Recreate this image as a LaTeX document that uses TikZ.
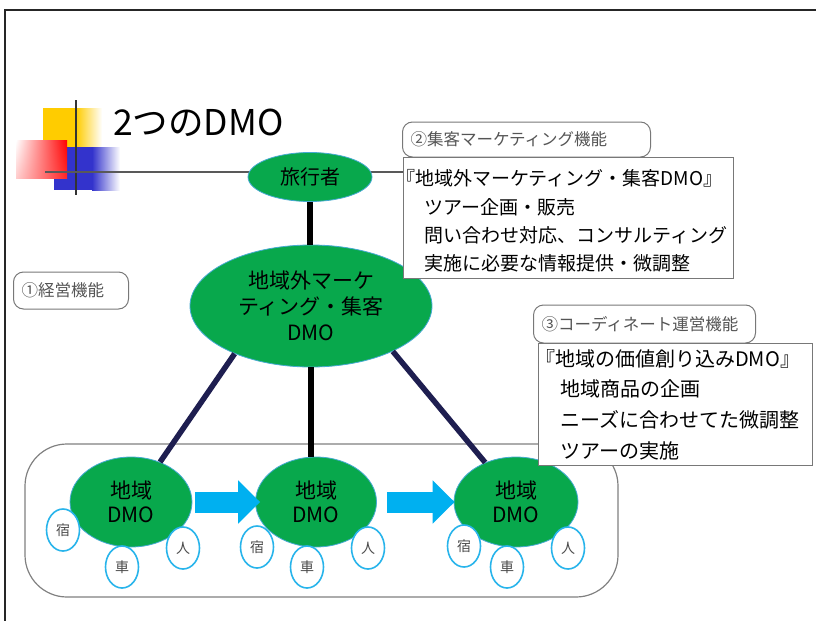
\documentclass[tikz,border=0pt]{standalone}
\usepackage{fontspec}
\setmainfont{Noto Sans CJK JP}
\usetikzlibrary{shapes.geometric,arrows.meta,shadings}
\definecolor{dmogreen}{RGB}{8,168,76}
\definecolor{dmoedge}{RGB}{70,170,210}
\definecolor{circedge}{RGB}{40,180,235}
\definecolor{arrowblue}{RGB}{0,176,240}
\definecolor{navyline}{RGB}{30,30,80}
\definecolor{boxgray}{RGB}{120,120,120}
\definecolor{labelgray}{RGB}{85,85,85}
\definecolor{decoyellow}{RGB}{255,204,0}
\definecolor{decoblue}{RGB}{51,51,204}
\definecolor{decored}{RGB}{255,0,0}
\begin{document}
\begin{tikzpicture}[x=1pt,y=-1pt,
  greenell/.style={ellipse, fill=dmogreen, draw=dmoedge, line width=0.8pt, inner sep=0pt, align=center, text=black},
  smallell/.style={ellipse, fill=white, draw=circedge, line width=1.6pt, minimum width=33pt, minimum height=42pt, inner sep=0pt, font=\fontsize{14}{16}\selectfont, text=black!70},
  tagbox/.style={rounded corners=10pt, draw=boxgray, line width=1pt, fill=white, font=\fontsize{16.5}{18}\selectfont, text=labelgray, inner ysep=0pt, inner xsep=8pt, minimum height=36pt, align=left, anchor=west},
  infobox/.style={draw=boxgray, line width=1.2pt, fill=white, inner sep=0pt, anchor=north west},
  infotext/.style={anchor=base west, inner sep=0pt, text=black},
  heavyblack/.style={line width=6pt, black},
  heavynavy/.style={line width=5.5pt, navyline},
  blockarrow/.style={draw=arrowblue, line width=21pt, -{Triangle[length=22pt,width=42pt]}},
]
\useasboundingbox (0,0) rectangle (816,621);
% frame
\draw[line width=2pt, black!85] (816,10) -- (5,10) -- (5,621);
% decoration
\fill[decoyellow] (43,108) rectangle (76,147);
\shade[left color=decoyellow, right color=white] (76,108) rectangle (102,147);
\fill[decoblue] (54,147) rectangle (92,190);
\shade[left color=decoblue, right color=white] (92,147) rectangle (120,190);
\shade[upper left=white, upper right=decored, lower left=decored!20, lower right=decored!85] (16,140) rectangle (67,178);
\draw[line width=1.5pt, black!80] (76,100) -- (76,195);
\draw[line width=1.3pt, black!65] (45,172) -- (403,172);
% title
\node[anchor=base west, inner sep=0pt, font=\fontsize{35.5}{40}\selectfont] (title) at (113,135) {2つのDMO};
% bottom region
\node[draw=black!50, line width=1.2pt, rounded corners=42pt, minimum width=593pt, minimum height=153pt, inner sep=0pt] (region) at (321.5,520.5) {};
% main nodes
\node[greenell, minimum width=124pt, minimum height=49pt, font=\fontsize{20}{24}\selectfont] (trav) at (310,177) {旅行者};
\node[greenell, minimum width=242pt, minimum height=122pt, font=\fontsize{21}{26}\selectfont] (big) at (311,306) {地域外マーケ\\ティング・集客\\DMO};
\node[greenell, minimum width=122pt, minimum height=90pt, font=\fontsize{21}{24}\selectfont] (d1) at (131,502) {地域\\DMO};
\node[greenell, minimum width=121pt, minimum height=90pt, font=\fontsize{21}{24}\selectfont] (d2) at (316,502) {地域\\DMO};
\node[greenell, minimum width=124pt, minimum height=90pt, font=\fontsize{21}{24}\selectfont] (d3) at (516,502) {地域\\DMO};
% connectors
\draw[heavyblack] (trav.south) -- (big.north -| trav.south);
\draw[heavynavy] (big.212) -- (d1.54);
\draw[heavyblack] (big.south) -- (big.south |- d2.north);
\draw[heavynavy] (big.331) -- (d3.128);
\draw[blockarrow] ([xshift=3pt]d1.east) -- ([xshift=5pt]d2.west);
\draw[blockarrow] ([xshift=10pt]d2.east) -- ([xshift=1pt]d3.west);
% small circles
\node[smallell] (s1) at (63,530) {宿};
\node[smallell] (c1) at (122,567) {車};
\node[smallell] (p1) at (183,548) {人};
\node[smallell] (s2) at (257,547) {宿};
\node[smallell] (c2) at (307,567) {車};
\node[smallell] (p2) at (368,548) {人};
\node[smallell] (s3) at (464,546) {宿};
\node[smallell] (c3) at (507,567) {車};
\node[smallell] (p3) at (568,548) {人};
% tag boxes
\node[tagbox, text width=99pt, minimum height=37pt] (tag1) at (13,290.5) {①経営機能};
\node[tagbox, text width=232pt, minimum height=35pt] (tag2) at (402,139.5) {②集客マーケティング機能};
\node[tagbox, text width=206pt, minimum height=38pt] (tag3) at (533,324) {③コーディネート運営機能};
% info box 1
\node[infobox, minimum width=330pt, minimum height=121pt] (info1) at (403,157) {};
\begin{scope}[font=\fontsize{19}{22}\selectfont]
\node[infotext] (i1a) at (396,185) {『地域外マーケティング・集客DMO』};
\node[infotext] (i1b) at (424,214) {ツアー企画・販売};
\node[infotext] (i1c) at (424,242) {問い合わせ対応、コンサルティング};
\node[infotext] (i1d) at (424,270) {実施に必要な情報提供・微調整};
\end{scope}
% info box 2
\node[infobox, minimum width=274pt, minimum height=122pt] (info2) at (538,343) {};
\begin{scope}[font=\fontsize{20}{22}\selectfont]
\node[infotext] (i2a) at (535,366) {『地域の価値創り込みDMO』};
\node[infotext] (i2b) at (560,396.5) {地域商品の企画};
\node[infotext] (i2c) at (560,427) {ニーズに合わせてた微調整};
\node[infotext] (i2d) at (560,458) {ツアーの実施};
\end{scope}
\end{tikzpicture}
\end{document}
